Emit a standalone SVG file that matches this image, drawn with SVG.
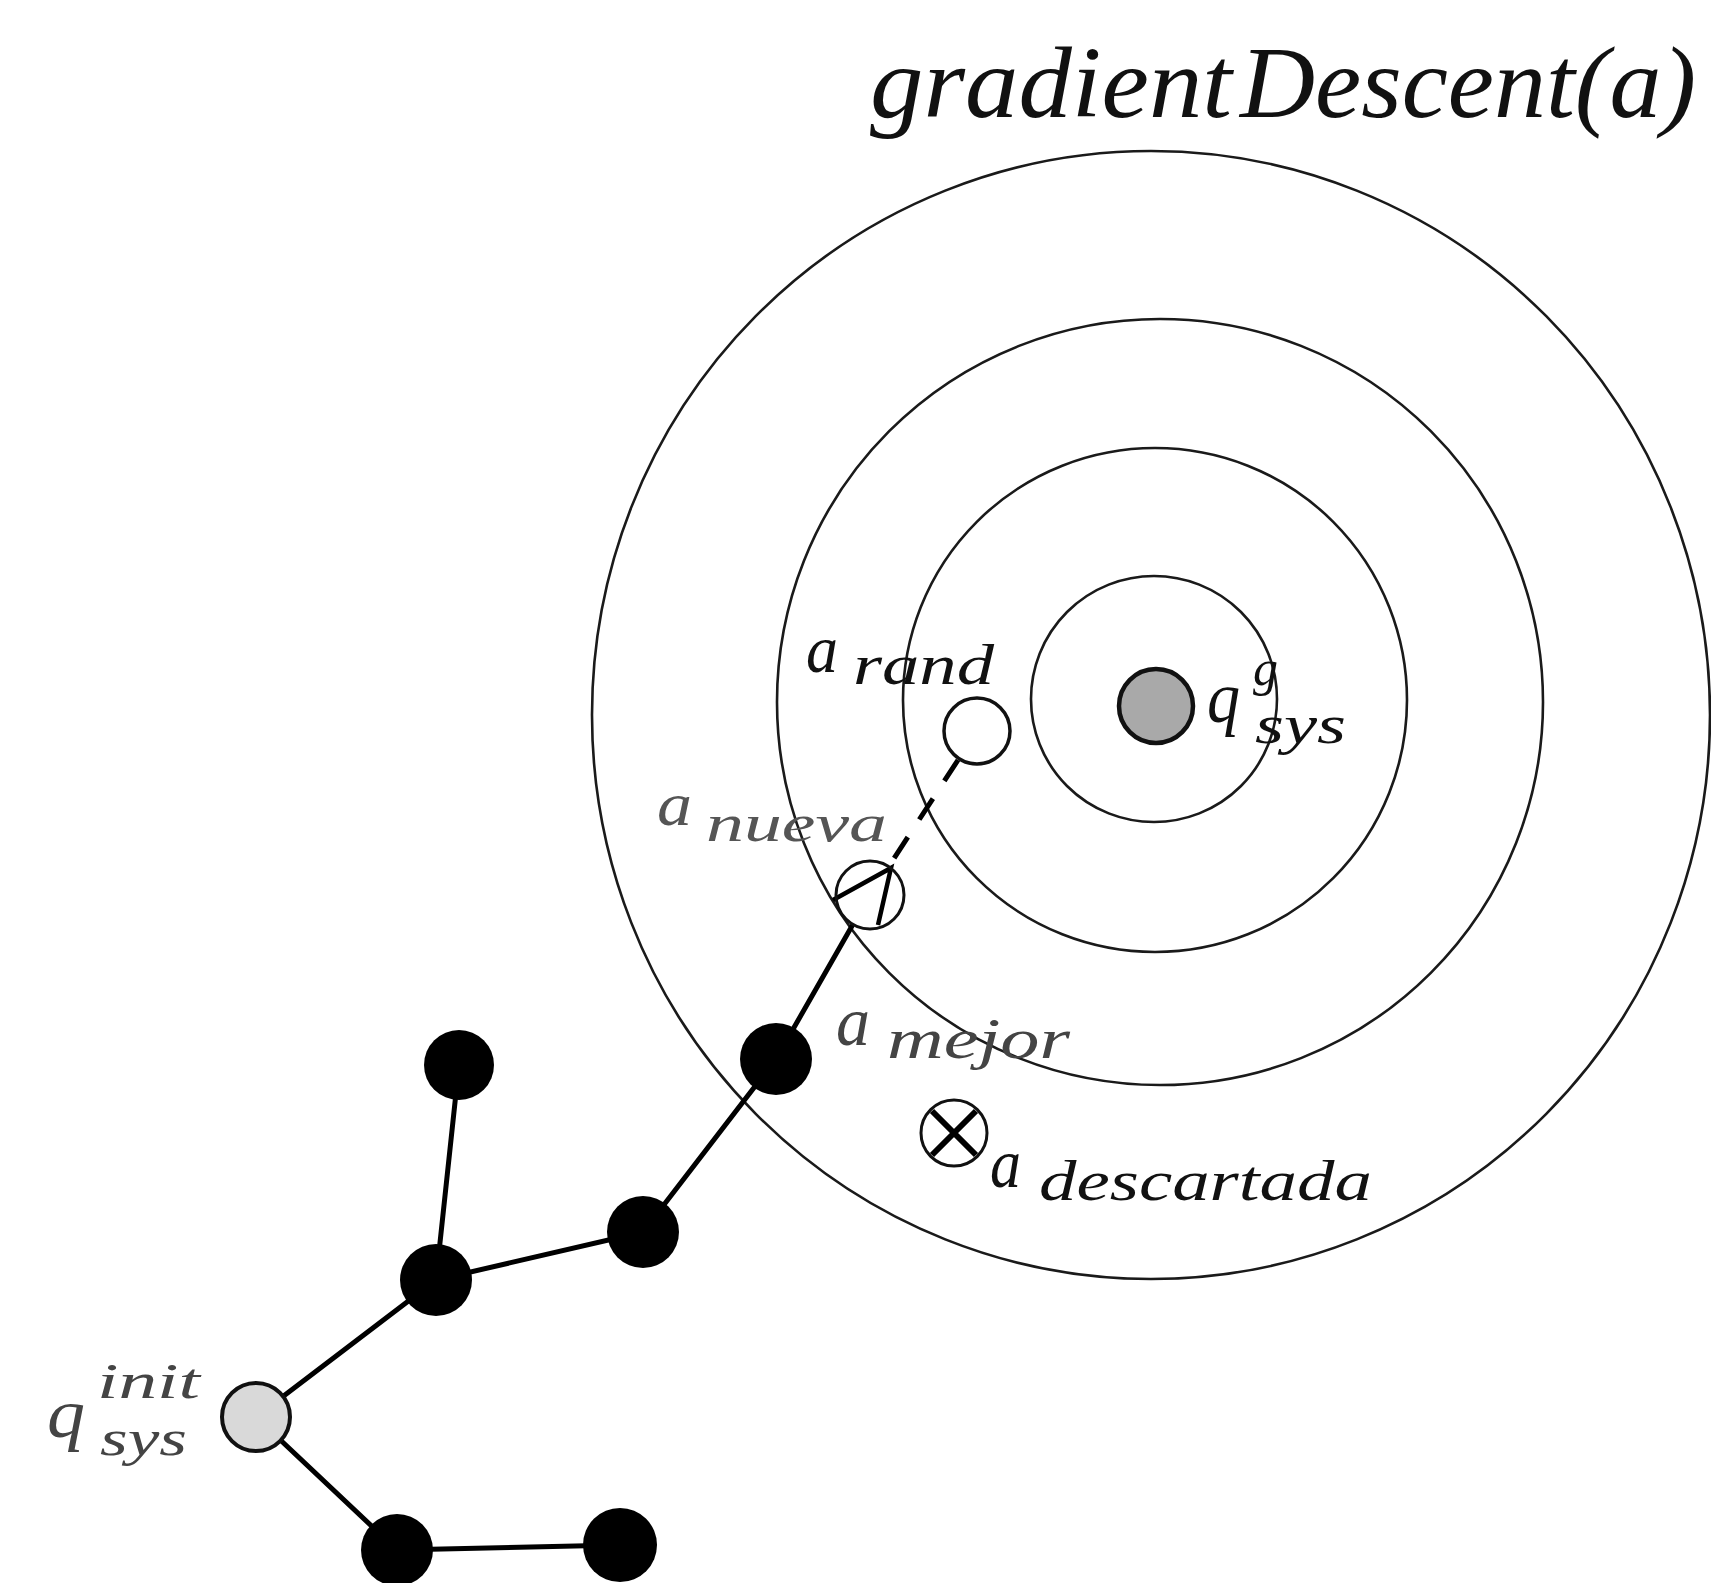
<svg xmlns="http://www.w3.org/2000/svg" width="1711" height="1583" viewBox="0 0 1711 1583">
<style>
.ring{fill:none;stroke:#1a1a1a;stroke-width:2.6}
.edge{stroke:#000;stroke-width:5;fill:none;stroke-linecap:round}
.blk{fill:#000}
.t{font-family:"Liberation Serif","DejaVu Serif",serif;font-style:italic;fill:#111}
.faint{fill:#444}
</style>
<rect width="1711" height="1583" fill="#fff"/>
<g id="title">
<text class="t" x="870" y="117" font-size="102" textLength="362" lengthAdjust="spacingAndGlyphs">gradient</text>
<text class="t" x="1240" y="117" font-size="102" textLength="456" lengthAdjust="spacingAndGlyphs">Descent(a)</text>
</g>
<g id="contours">
<ellipse class="ring" cx="1151" cy="715" rx="559" ry="564"/>
<circle class="ring" cx="1160" cy="702" r="383"/>
<circle class="ring" cx="1155" cy="700" r="252"/>
<circle class="ring" cx="1154" cy="699" r="123"/>
</g>
<g id="connectors">
<line class="edge" x1="256" y1="1417" x2="436" y2="1280"/>
<line class="edge" x1="436" y1="1280" x2="459" y2="1065"/>
<line class="edge" x1="436" y1="1280" x2="643" y2="1232"/>
<line class="edge" x1="643" y1="1232" x2="776" y2="1059"/>
<line class="edge" x1="776" y1="1059" x2="852" y2="926"/>
<line class="edge" x1="256" y1="1417" x2="397" y2="1550"/>
<line class="edge" x1="397" y1="1550" x2="620" y2="1545"/>
<line x1="958" y1="760" x2="889" y2="866" stroke="#000" stroke-width="5" stroke-dasharray="25 21"/>
<path d="M833,900 L891,868 L878,925" fill="none" stroke="#000" stroke-width="4.5" stroke-linejoin="miter"/>
</g>
<g id="q_init">
<circle cx="256" cy="1417" r="34" fill="#d9d9d9" stroke="#111" stroke-width="4"/>
<text class="t faint" x="47" y="1437" font-size="70" textLength="38" lengthAdjust="spacingAndGlyphs">q</text>
<text class="t faint" x="97" y="1398" font-size="50" textLength="103" lengthAdjust="spacingAndGlyphs">init</text>
<text class="t faint" x="100" y="1455" font-size="50" textLength="87" lengthAdjust="spacingAndGlyphs">sys</text>
</g>
<g id="nodeA"><circle class="blk" cx="436" cy="1280" r="36"/></g>
<g id="nodeB"><circle class="blk" cx="459" cy="1065" r="35"/></g>
<g id="nodeC"><circle class="blk" cx="643" cy="1232" r="36"/></g>
<g id="nodeE"><circle class="blk" cx="397" cy="1550" r="36"/></g>
<g id="nodeF"><circle class="blk" cx="620" cy="1545" r="37"/></g>
<g id="a_mejor">
<circle class="blk" cx="776" cy="1059" r="36"/>
<text class="t faint" x="836" y="1045" font-size="70" textLength="34" lengthAdjust="spacingAndGlyphs">a</text>
<text class="t faint" x="887" y="1058" font-size="56" textLength="183" lengthAdjust="spacingAndGlyphs">mejor</text>
</g>
<g id="a_nueva">
<circle cx="870" cy="895" r="34" fill="none" stroke="#111" stroke-width="3"/>
<text class="t" x="657" y="825" font-size="62" textLength="35" lengthAdjust="spacingAndGlyphs" style="fill:#555">a</text>
<text class="t" x="706" y="841" font-size="52" textLength="181" lengthAdjust="spacingAndGlyphs" style="fill:#555">nueva</text>
</g>
<g id="a_rand">
<circle cx="977" cy="731" r="33" fill="#fff" stroke="#111" stroke-width="3.5"/>
<text class="t" x="806" y="672" font-size="68" textLength="32" lengthAdjust="spacingAndGlyphs">a</text>
<text class="t" x="853" y="684" font-size="56" textLength="141" lengthAdjust="spacingAndGlyphs">rand</text>
</g>
<g id="goal">
<circle cx="1156" cy="706" r="37" fill="#a9a9a9" stroke="#111" stroke-width="4.5"/>
<text class="t" x="1207" y="722" font-size="72" textLength="33" lengthAdjust="spacingAndGlyphs">q</text>
<text class="t" x="1253" y="685" font-size="50" textLength="25" lengthAdjust="spacingAndGlyphs">g</text>
<text class="t" x="1255" y="743" font-size="54" textLength="91" lengthAdjust="spacingAndGlyphs">sys</text>
</g>
<g id="a_descartada">
<circle cx="954" cy="1133" r="33" fill="#fff" stroke="#111" stroke-width="3"/>
<path d="M932,1111 L976,1155 M976,1111 L932,1155" stroke="#000" stroke-width="6"/>
<text class="t" x="990" y="1187" font-size="70" textLength="31" lengthAdjust="spacingAndGlyphs">a</text>
<text class="t" x="1039" y="1200" font-size="56" textLength="333" lengthAdjust="spacingAndGlyphs">descartada</text>
</g>
</svg>
